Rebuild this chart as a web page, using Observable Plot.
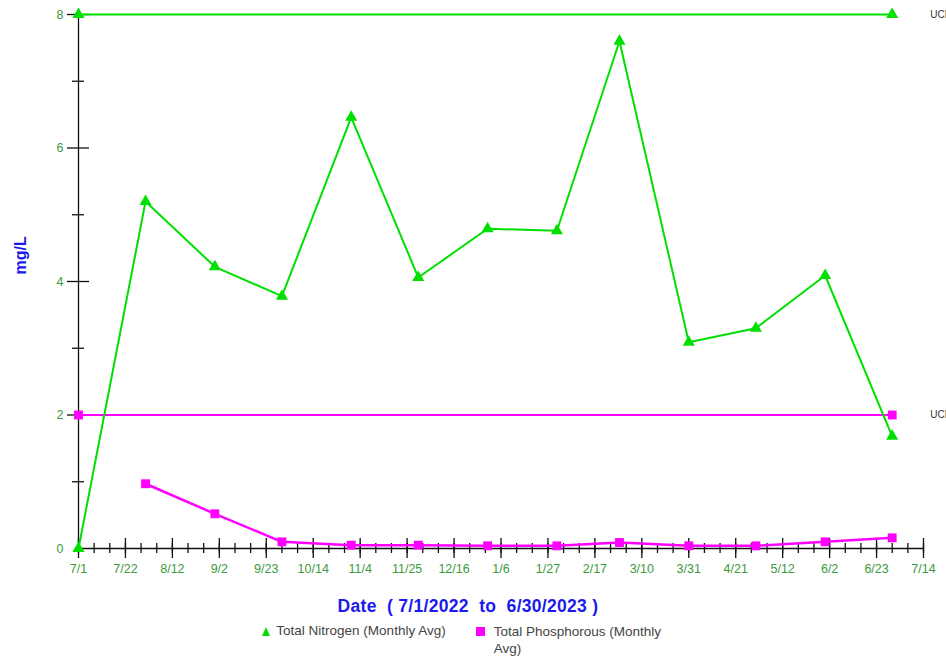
<!DOCTYPE html>
<html>
<head>
<meta charset="utf-8">
<script src="https://cdn.jsdelivr.net/npm/d3@7"></script>
<script src="https://cdn.jsdelivr.net/npm/@observablehq/plot@0.6"></script>
<style>
  body { margin: 0; background: #fff; font-family: "Liberation Sans", Arial, sans-serif; }
  #wrap { width: 946px; }
  #xtitle { text-align: center; color: #1a1aee; font-weight: bold; font-size: 17.5px; margin-top: 11px; padding-right: 10px; letter-spacing: 0.3px; }
  #legend { display: flex; justify-content: center; gap: 30px; font-size: 13.5px; color: #444; margin-top: 6px; padding-right: 18px; }
  .item { display: flex; align-items: flex-start; }
  .sw { display: inline-block; margin-right: 6px; margin-top: 4px; }
  .tri { width: 0; height: 0; border-left: 4.5px solid transparent; border-right: 4.5px solid transparent; border-bottom: 9px solid #00dd00; }
  .sq { width: 9px; height: 9px; background: #ff00ff; margin-right: 9px; }
  .ptext { width: 172px; line-height: 17px; }
</style>
</head>
<body>
<div id="wrap">
  <div id="chart"></div>
  <div id="xtitle">Date&nbsp; ( 7/1/2022&nbsp; to&nbsp; 6/30/2023 )</div>
  <div id="legend">
    <div class="item"><span class="sw tri"></span><span>Total Nitrogen (Monthly Avg)</span></div>
    <div class="item"><span class="sw sq"></span><span class="ptext">Total Phosphorous (Monthly Avg)</span></div>
  </div>
</div>
<script>
const dates = ["2022-07-01","2022-07-31","2022-08-31","2022-09-30","2022-10-31","2022-11-30","2022-12-31","2023-01-31","2023-02-28","2023-03-31","2023-04-30","2023-05-31","2023-06-30"];
const nitrogen = [0, 5.2, 4.22, 3.78, 6.46, 4.06, 4.79, 4.76, 7.6, 3.09, 3.3, 4.09, 1.68];
const phosDates = ["2022-07-31","2022-08-31","2022-09-30","2022-10-31","2022-11-30","2022-12-31","2023-01-31","2023-02-28","2023-03-31","2023-04-30","2023-05-31","2023-06-30"];
const phosphorus = [0.97, 0.52, 0.1, 0.05, 0.05, 0.04, 0.04, 0.09, 0.04, 0.04, 0.1, 0.16];
const uclDates = ["2022-07-01","2023-06-30"];
const nUCL = 8;
const pUCL = 2;
const xDomain = ["2022-07-01","2023-07-14"];
const yMajor = [0, 2, 4, 6, 8];
const yMinor = [1, 3, 5, 7];

const parse = d3.utcParse("%Y-%m-%d");
const nData = dates.map((d, i) => ({date: parse(d), v: nitrogen[i]}));
const pData = phosDates.map((d, i) => ({date: parse(d), v: phosphorus[i]}));
const nU = uclDates.map(d => ({date: parse(d), v: nUCL}));
const pU = uclDates.map(d => ({date: parse(d), v: pUCL}));
const x0 = parse(xDomain[0]), x1 = parse(xDomain[1]);
const weeks = d3.utcDay.range(x0, d3.utcDay.offset(x1, 1), 7);
const majors = weeks.filter((d, i) => i % 3 === 0);
const fmt = d => `${d.getUTCMonth() + 1}/${d.getUTCDate()}`;

const green = "#00e000", mag = "#ff00ff", tickGreen = "#3c9a3c";

const chart = Plot.plot({
  width: 946,
  height: 585,
  marginTop: 14,
  marginBottom: 37,
  marginLeft: 78,
  marginRight: 23,
  style: {fontFamily: "Liberation Sans, Arial, sans-serif", fontSize: "12.5px"},
  x: {type: "utc", domain: [x0, x1]},
  y: {domain: [0, 8]},
  marks: [
    Plot.frame({anchor: "left", stroke: "#111", strokeWidth: 1.3}),
    Plot.frame({anchor: "bottom", stroke: "#111", strokeWidth: 1.3}),
    Plot.axisY({ticks: yMajor.filter(d => d > 0), tickSize: 22, dx: 11, tickFormat: () => "", label: null, stroke: "#111", strokeWidth: 1.3}),
    Plot.axisY({ticks: yMinor, tickSize: 12, dx: 6, tickFormat: () => "", label: null, stroke: "#111", strokeWidth: 1.3}),
    Plot.axisY({ticks: yMajor, tickSize: 0, tickPadding: 15, fill: tickGreen, label: null, fontSize: 12.5}),
    Plot.axisX({ticks: weeks, tickSize: 10, dy: -5, tickFormat: () => "", label: null, stroke: "#111", strokeWidth: 1.3}),
    Plot.axisX({ticks: majors, tickSize: 20, dy: -10, tickFormat: () => "", label: null, stroke: "#111", strokeWidth: 1.3}),
    Plot.axisX({ticks: majors, tickSize: 0, tickPadding: 16, tickFormat: fmt, fill: tickGreen, label: null, fontSize: 12.5}),
    Plot.text(["mg/L"], {frameAnchor: "left", dx: -58, dy: -7, rotate: -90, fill: "#1a1aee", fontWeight: "bold", fontSize: 16}),
    Plot.line(nU, {x: "date", y: "v", stroke: green, strokeWidth: 2}),
    Plot.dot(nU, {x: "date", y: "v", symbol: "triangle", fill: green, r: 4.5}),
    Plot.line(pU, {x: "date", y: "v", stroke: mag, strokeWidth: 2}),
    Plot.dot(pU, {x: "date", y: "v", symbol: "square", fill: mag, r: 5}),
    Plot.text([nU[1]], {x: "date", y: "v", text: () => "UCL", dx: 38, textAnchor: "start", fill: "#333", fontSize: 10}),
    Plot.text([pU[1]], {x: "date", y: "v", text: () => "UCL", dx: 38, textAnchor: "start", fill: "#333", fontSize: 10}),
    Plot.line(nData, {x: "date", y: "v", stroke: green, strokeWidth: 2}),
    Plot.dot(nData, {x: "date", y: "v", symbol: "triangle", fill: green, r: 4.5}),
    Plot.line(pData, {x: "date", y: "v", stroke: mag, strokeWidth: 2.5}),
    Plot.dot(pData, {x: "date", y: "v", symbol: "square", fill: mag, r: 5})
  ]
});
document.getElementById("chart").appendChild(chart);
</script>
</body>
</html>
